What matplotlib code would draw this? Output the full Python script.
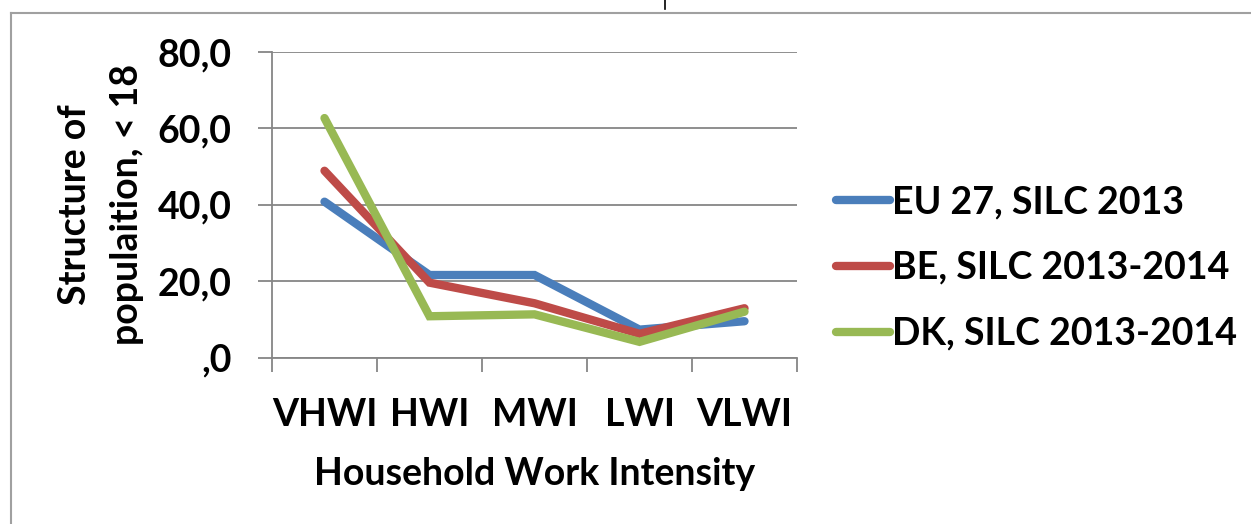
import matplotlib
matplotlib.use("Agg")
import matplotlib.pyplot as plt
from matplotlib.lines import Line2D

categories = ["VHWI", "HWI", "MWI", "LWI", "VLWI"]
eu27 = [40.8, 21.6, 21.6, 7.3, 9.5]
be = [48.9, 19.6, 14.2, 6.2, 12.9]
dk = [62.7, 10.8, 11.3, 4.1, 12.0]
series_names = ["EU 27, SILC 2013", "BE, SILC 2013-2014", "DK, SILC 2013-2014"]
yticks = [0, 20, 40, 60, 80]
ytick_labels = [",0", "20,0", "40,0", "60,0", "80,0"]

plt.rcParams['font.family'] = ['Lato', 'DejaVu Sans']
plt.rcParams['font.weight'] = 'bold'

FS = 27
W, H = 1251, 524
fig = plt.figure(figsize=(W / 100, H / 100), dpi=100)
ax = fig.add_axes([272 / W, 1 - 357.5 / H, (797 - 272) / W, (357.5 - 52) / H])

colors = ["#4A7EBB", "#BE4B48", "#98B954"]
x = list(range(len(categories)))
for vals, name, c in zip([eu27, be, dk], series_names, colors):
    ax.plot(x, vals, color=c, lw=6, solid_capstyle='round', solid_joinstyle='miter', label=name)

ax.set_xlim(-0.5, len(categories) - 0.5)
ax.set_ylim(0, 80)
ax.set_yticks(yticks)
ax.set_yticklabels(ytick_labels)
ax.set_xticks(x)
ax.set_xticklabels(categories)
ax.set_xticks([i - 0.5 for i in range(len(categories) + 1)], minor=True)
ax.tick_params(axis='x', which='major', length=0, pad=29, labelsize=FS)
ax.tick_params(axis='x', which='minor', length=10, width=1.3, color='#868686', direction='out')
ax.tick_params(axis='y', length=10, width=1.3, color='#868686', labelsize=FS, pad=19)
ax.grid(axis='y', color='#868686', lw=1.3)
for s in ['top', 'right']:
    ax.spines[s].set_visible(False)
for s in ['left', 'bottom']:
    ax.spines[s].set_color('#868686')
    ax.spines[s].set_linewidth(1.3)
ax.set_axisbelow(True)

ax.set_xlabel("Household Work Intensity", fontsize=FS, fontweight='bold', labelpad=18)
ax.set_ylabel("Structure of\npopulaition, < 18", fontsize=FS, fontweight='bold', labelpad=10, linespacing=1.65)

leg = fig.legend(loc='upper left', bbox_to_anchor=(836 / W, 1 - 185 / H), frameon=False,
                 fontsize=FS, handlelength=1.45, handletextpad=0.05, labelspacing=0.85,
                 borderaxespad=0, borderpad=0)
for t in leg.get_texts():
    t.set_fontweight('bold')

# outer frame
fig.add_artist(Line2D([11 / W, 11 / W], [0, 1 - 13 / H], color='#A0A0A0', lw=1.5))
fig.add_artist(Line2D([11 / W, 1], [1 - 13 / H, 1 - 13 / H], color='#A0A0A0', lw=1.5))
fig.add_artist(Line2D([665 / W, 665 / W], [1 - 9 / H, 1], color='black', lw=1.2))

fig.savefig("out.png", dpi=100)
